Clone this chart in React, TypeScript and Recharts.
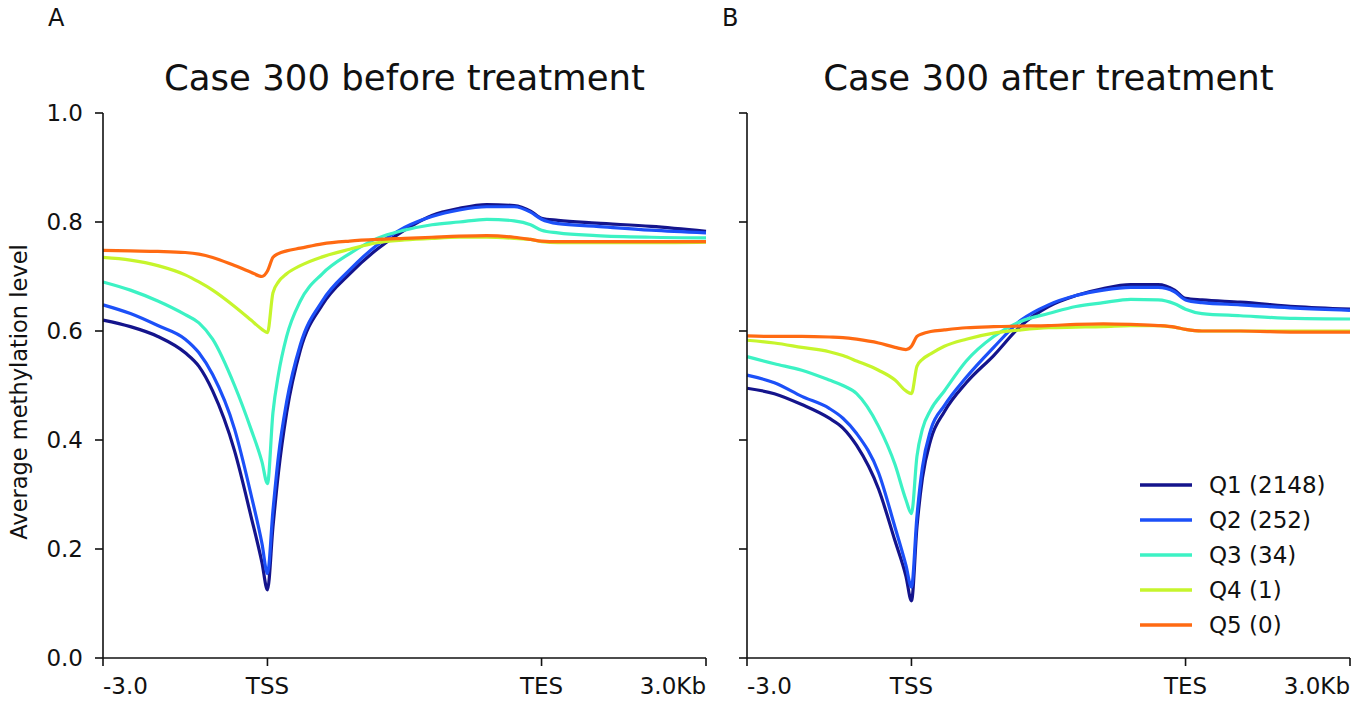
import React from 'react'
import { LineChart, Line, XAxis, YAxis, Legend } from 'recharts'

// bin positions in kb-ish units: 0..3 upstream, 3..8 gene body, 8..11 downstream
const positions = [0, 0.5, 1, 1.5, 1.75, 2, 2.4, 2.7, 2.9, 3, 3.1, 3.2, 3.35, 3.6, 4, 4.5, 5, 5.5, 6, 6.5, 7, 7.5, 7.8, 8, 8.3, 9, 10, 11]
const xTicks = [0, 3, 8, 11]
const xTickLabels = ['-3.0', 'TSS', 'TES', '3.0Kb']
const yTicks = [0, 0.2, 0.4, 0.6, 0.8, 1.0]

const groups = ['Q1 (2148)', 'Q2 (252)', 'Q3 (34)', 'Q4 (1)', 'Q5 (0)']
const colors = ['#14148c', '#1c50f8', '#3cf2c4', '#c6f52c', '#ff6a12']

const beforeQ1 = [0.62, 0.608, 0.59, 0.56, 0.535, 0.49, 0.38, 0.26, 0.175, 0.125, 0.24, 0.34, 0.45, 0.565, 0.648, 0.705, 0.75, 0.785, 0.812, 0.825, 0.832, 0.83, 0.82, 0.807, 0.803, 0.798, 0.792, 0.783]
const beforeQ2 = [0.648, 0.632, 0.61, 0.585, 0.56, 0.52, 0.42, 0.3, 0.21, 0.155, 0.27, 0.37, 0.47, 0.575, 0.655, 0.712, 0.758, 0.79, 0.81, 0.822, 0.828, 0.828, 0.818, 0.805, 0.797, 0.792, 0.785, 0.78]
const beforeQ3 = [0.69, 0.675, 0.655, 0.63, 0.615, 0.585, 0.5, 0.42, 0.36, 0.32, 0.45, 0.52, 0.59, 0.655, 0.705, 0.742, 0.77, 0.785, 0.795, 0.8, 0.805, 0.802, 0.795, 0.785, 0.78, 0.775, 0.772, 0.771]
const beforeQ4 = [0.735, 0.73, 0.72, 0.703, 0.69, 0.675, 0.645, 0.62, 0.603, 0.597, 0.67, 0.69, 0.705, 0.72, 0.736, 0.75, 0.762, 0.767, 0.77, 0.772, 0.772, 0.77, 0.768, 0.764, 0.762, 0.762, 0.762, 0.763]
const beforeQ5 = [0.748, 0.747, 0.746, 0.744, 0.741, 0.735, 0.72, 0.708, 0.7, 0.71, 0.735, 0.742, 0.747, 0.752, 0.76, 0.765, 0.768, 0.77, 0.772, 0.774, 0.775, 0.772, 0.768, 0.765, 0.764, 0.764, 0.764, 0.764]

const afterQ1 = [0.495, 0.485, 0.465, 0.44, 0.422, 0.39, 0.31, 0.215, 0.15, 0.105, 0.24, 0.33, 0.4, 0.452, 0.505, 0.555, 0.61, 0.645, 0.665, 0.678, 0.685, 0.685, 0.675, 0.66, 0.657, 0.653, 0.645, 0.64]
const afterQ2 = [0.519, 0.505, 0.48, 0.458, 0.44, 0.412, 0.34, 0.24, 0.17, 0.13, 0.26, 0.35, 0.418, 0.463, 0.515, 0.57, 0.62, 0.648, 0.665, 0.675, 0.68, 0.68, 0.672, 0.657, 0.652, 0.648, 0.642, 0.638]
const afterQ3 = [0.553, 0.54, 0.528, 0.51, 0.5, 0.485, 0.425, 0.355, 0.29, 0.265, 0.37, 0.42, 0.455, 0.49, 0.545, 0.59, 0.618, 0.632, 0.645, 0.652, 0.658, 0.657, 0.65, 0.64, 0.632, 0.628, 0.623, 0.622]
const afterQ4 = [0.583, 0.578, 0.57, 0.562, 0.555, 0.545, 0.528, 0.51, 0.49, 0.485, 0.535, 0.548, 0.558, 0.572, 0.585, 0.596, 0.602, 0.606, 0.607, 0.608, 0.61, 0.61, 0.607, 0.603, 0.6, 0.6, 0.6, 0.6]
const afterQ5 = [0.591, 0.59, 0.59, 0.589, 0.588, 0.585, 0.578, 0.57, 0.566, 0.572, 0.59, 0.595, 0.599, 0.602, 0.606, 0.608, 0.609, 0.61, 0.612, 0.613, 0.612, 0.61, 0.607, 0.603, 0.6, 0.6, 0.598, 0.598]

const keys = ['q1', 'q2', 'q3', 'q4', 'q5']

const toRows = (series: number[][]) =>
  positions.map((x, i) => {
    const row: any = { x }
    series.forEach((s, k) => { row[keys[k]] = s[i] })
    return row
  })

const beforeData = toRows([beforeQ1, beforeQ2, beforeQ3, beforeQ4, beforeQ5])
const afterData = toRows([afterQ1, afterQ2, afterQ3, afterQ4, afterQ5])

const FONT = 'DejaVu Sans, sans-serif'
const INK = '#111'
const TICK_FONT = 23

// deeptools style: first label left-aligned, last right-aligned
const XTick = ({ x, y, payload }: any) => {
  const i = xTicks.indexOf(payload.value)
  const anchor = i === 0 ? 'start' : i === xTicks.length - 1 ? 'end' : 'middle'
  return (
    <text x={x} y={y} dy="0.71em" textAnchor={anchor} fill={INK} fontSize={TICK_FONT} fontFamily={FONT}>
      {xTickLabels[i]}
    </text>
  )
}

const LegendBox = () => (
  <div style={{ fontFamily: FONT, fontSize: TICK_FONT, color: INK }}>
    {groups.map((g, i) => (
      <div key={g} style={{ display: 'flex', alignItems: 'center', height: 35 }}>
        <svg width={52} height={6} style={{ marginRight: 17 }}>
          <line x1={0} y1={3} x2={52} y2={3} stroke={colors[i]} strokeWidth={3.5} />
        </svg>
        <span style={{ whiteSpace: 'nowrap' }}>{g}</span>
      </div>
    ))}
  </div>
)

interface PanelProps {
  data: any[]
  showYLabels: boolean
  showLegend?: boolean
  width: number
  margin: { top: number; right: number; bottom: number; left: number }
  yAxisWidth: number
}

function Panel({ data, showYLabels, showLegend, width, margin, yAxisWidth }: PanelProps) {
  const axisStroke = { stroke: INK, strokeWidth: 1.6 }
  return (
    <LineChart width={width} height={704} data={data} margin={margin}>
      <XAxis
        dataKey="x"
        type="number"
        domain={[0, 11]}
        ticks={xTicks}
        tick={<XTick />}
        tickSize={8}
        tickMargin={12}
        axisLine={axisStroke}
        tickLine={axisStroke}
        height={30}
        interval={0}
      />
      <XAxis xAxisId="top" orientation="top" dataKey="x" type="number" domain={[0, 11]} ticks={[]} tick={false} tickLine={false} axisLine={axisStroke} height={0} />
      <YAxis
        type="number"
        domain={[0, 1]}
        ticks={yTicks}
        tickFormatter={(v: number) => (showYLabels ? v.toFixed(1) : '')}
        tick={{ fill: INK, fontSize: TICK_FONT, fontFamily: FONT }}
        tickSize={8}
        tickMargin={12}
        axisLine={axisStroke}
        tickLine={axisStroke}
        width={yAxisWidth}
        interval={0}
      />
      <YAxis yAxisId="right" orientation="right" domain={[0, 1]} ticks={[]} tick={false} tickLine={false} axisLine={axisStroke} width={0} />
      {keys.map((k, i) => (
        <Line
          key={k}
          dataKey={k}
          name={groups[i]}
          type="monotone"
          stroke={colors[i]}
          strokeWidth={3.2}
          dot={false}
          activeDot={false}
          isAnimationActive={false}
        />
      ))}
      {showLegend && (
        <Legend
          layout="horizontal"
          verticalAlign="middle"
          content={<LegendBox />}
          wrapperStyle={{ left: 420, top: 467, width: 220 }}
        />
      )}
    </LineChart>
  )
}

export default function App() {
  const titleStyle: React.CSSProperties = {
    position: 'absolute', top: 57, fontFamily: FONT, fontSize: 35.5, color: INK,
    textAlign: 'center', whiteSpace: 'nowrap',
  }
  const letterStyle: React.CSSProperties = {
    position: 'absolute', top: 4, fontFamily: FONT, fontSize: 24, color: INK,
  }
  return (
    <div style={{ position: 'absolute', left: 0, top: 0, width: 1368, height: 704, background: '#fff' }}>
      <div style={{ ...letterStyle, left: 48 }}>A</div>
      <div style={{ ...letterStyle, left: 722 }}>B</div>
      <div style={{ ...titleStyle, left: 103, width: 603 }}>Case 300 before treatment</div>
      <div style={{ ...titleStyle, left: 747, width: 603 }}>Case 300 after treatment</div>
      <div
        style={{
          position: 'absolute', left: 19, top: 392, fontFamily: FONT, fontSize: 22.5, color: INK,
          transform: 'translate(-50%, -50%) rotate(-90deg)', whiteSpace: 'nowrap',
        }}
      >
        Average methylation level
      </div>
      <div style={{ position: 'absolute', left: 0, top: 0 }}>
        <Panel
          data={beforeData}
          showYLabels
          width={720}
          margin={{ top: 113, right: 14, bottom: 16, left: 40 }}
          yAxisWidth={63}
        />
      </div>
      <div style={{ position: 'absolute', left: 720, top: 0 }}>
        <Panel
          data={afterData}
          showYLabels={false}
          showLegend
          width={648}
          margin={{ top: 113, right: 18, bottom: 16, left: 0 }}
          yAxisWidth={27}
        />
      </div>
    </div>
  )
}
